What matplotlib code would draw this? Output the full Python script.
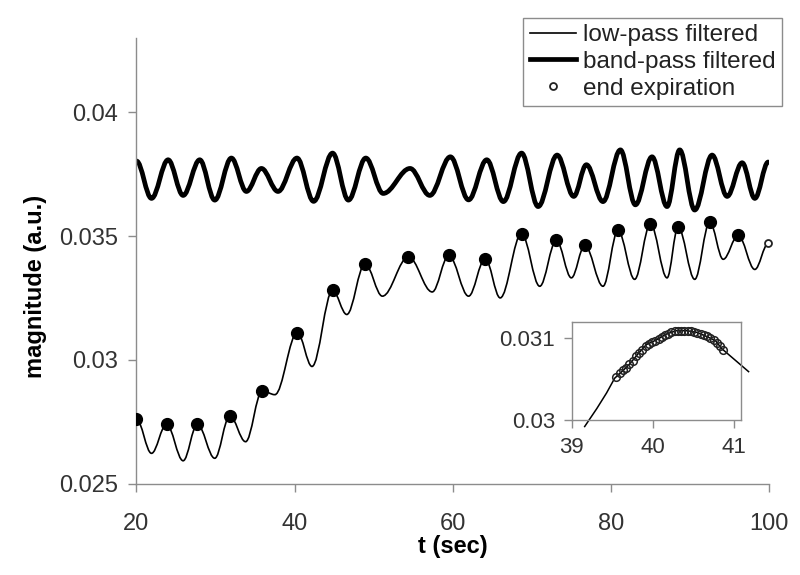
import matplotlib
matplotlib.use('Agg')
import matplotlib.pyplot as plt
from matplotlib.path import Path
from matplotlib.patches import PathPatch
from matplotlib.lines import Line2D

plt.rcParams['font.family'] = ['Liberation Sans', 'DejaVu Sans']

# low-pass filtered signal, successive turning points
low_t = [20.0, 21.9, 23.8, 25.9, 27.7, 29.9, 31.8, 33.8, 35.9, 37.5, 40.35,
         42.2, 44.8, 46.6, 48.9, 51.1, 54.4, 57.4, 59.5, 62.0, 64.1, 66.0,
         68.7, 71.0, 73.1, 75.0, 76.7, 79.0, 80.9, 83.0, 85.0, 87.1, 88.5,
         90.6, 92.5, 94.2, 96.1, 98.2, 99.9]
low_v = [0.02760, 0.02622, 0.02740, 0.02592, 0.02740, 0.02602, 0.02774,
         0.02669, 0.02875, 0.02859, 0.03110, 0.02973, 0.03280, 0.03183,
         0.03388, 0.03257, 0.03416, 0.03274, 0.03422, 0.03257, 0.03409,
         0.03250, 0.03510, 0.03297, 0.03483, 0.03331, 0.03463, 0.03297,
         0.03523, 0.03325, 0.03550, 0.03331, 0.03537, 0.03325, 0.03557,
         0.03406, 0.03503, 0.03365, 0.03470]

# band-pass filtered signal, turning points
band_t = [20.0, 21.9, 24.0, 25.9, 28.0, 29.9, 32.0, 33.9, 35.8, 37.9, 40.3,
          42.4, 44.8, 46.8, 49.0, 51.2, 54.6, 57.1, 59.7, 62.0, 64.3, 66.4,
          68.7, 70.8, 73.2, 75.3, 76.9, 79.0, 81.2, 83.1, 85.2, 87.1, 88.7,
          90.6, 92.8, 94.7, 96.6, 98.2, 99.9]
band_v = [0.03803, 0.03652, 0.03808, 0.03664, 0.03808, 0.03645, 0.03815,
          0.03680, 0.03773, 0.03680, 0.03815, 0.03640, 0.03835, 0.03645,
          0.03815, 0.03672, 0.03773, 0.03664, 0.03820, 0.03646, 0.03808,
          0.03639, 0.03835, 0.03619, 0.03827, 0.03660, 0.03788, 0.03639,
          0.03848, 0.03626, 0.03820, 0.03619, 0.03848, 0.03605, 0.03827,
          0.03660, 0.03796, 0.03652, 0.03799]

# end expiration samples (clustered on the low-pass peaks)
ee_t = [20.0, 23.8, 27.7, 31.8, 35.9, 40.35, 44.8, 48.9, 54.4, 59.5, 64.1,
        68.7, 73.1, 76.7, 80.9, 85.0, 88.5, 92.5, 96.1]
ee_v = [0.02760, 0.02740, 0.02740, 0.02774, 0.02875, 0.03110, 0.03280,
        0.03388, 0.03416, 0.03422, 0.03409, 0.03510, 0.03483, 0.03463,
        0.03523, 0.03550, 0.03537, 0.03557, 0.03503]
last_ee_t = [99.9]
last_ee_v = [0.03470]

# inset: low-pass around t = 40 s and its end expiration samples
zoom_t = [39.16, 39.31, 39.43, 39.53, 39.64, 39.72, 39.82, 39.92, 40.05,
          40.17, 40.29, 40.42, 40.54, 40.66, 40.77, 40.85, 41.18]
zoom_v = [0.02992, 0.03014, 0.03033, 0.03051, 0.03061, 0.03069, 0.03081,
          0.03092, 0.03098, 0.03105, 0.03109, 0.03109, 0.03107, 0.03102,
          0.03097, 0.03087, 0.03059]
zoom_ee_t = [39.55, 39.59, 39.63, 39.67, 39.71, 39.75, 39.79, 39.83, 39.87,
             39.91, 39.95, 39.99, 40.03, 40.07, 40.11, 40.15, 40.19, 40.23,
             40.27, 40.31, 40.35, 40.39, 40.43, 40.47, 40.51, 40.55, 40.59,
             40.63, 40.67, 40.71, 40.75, 40.79, 40.83, 40.87]
zoom_ee_v = [0.030525, 0.030570, 0.030605, 0.030640, 0.030685, 0.030725,
             0.030775, 0.030820, 0.030860, 0.030900, 0.030930, 0.030950,
             0.030970, 0.030990, 0.031015, 0.031040, 0.031055, 0.031070,
             0.031085, 0.031090, 0.031092, 0.031090, 0.031088, 0.031082,
             0.031072, 0.031062, 0.031050, 0.031035, 0.031020, 0.031000,
             0.030975, 0.030945, 0.030905, 0.030860]

xticks = [20, 40, 60, 80, 100]
yticks = [0.025, 0.03, 0.035, 0.04]
ytick_labels = ['0.025', '0.03', '0.035', '0.04']
inset_xticks = [39, 40, 41]
inset_yticks = [0.03, 0.031]
inset_ytick_labels = ['0.03', '0.031']

GREY = '#8c8c8c'


def smooth_path(t, v, k=0.36):
    # cubic bezier between turning points, flat at each turning point
    verts = [(t[0], v[0])]
    codes = [Path.MOVETO]
    for i in range(1, len(t)):
        dt = t[i] - t[i - 1]
        verts += [(t[i - 1] + k * dt, v[i - 1]), (t[i] - k * dt, v[i]), (t[i], v[i])]
        codes += [Path.CURVE4] * 3
    return Path(verts, codes)


def grey_axes(ax, spines):
    for name, sp in ax.spines.items():
        sp.set_visible(name in spines)
        sp.set_color(GREY)
        sp.set_linewidth(1)


fig = plt.figure(figsize=(8, 5.75), dpi=100)

ax = fig.add_axes([0.1706, 0.1591, 0.7907, 0.7748])
ax.add_patch(PathPatch(smooth_path(band_t, band_v), fill=False, edgecolor='black',
                       lw=3.4, capstyle='round', joinstyle='round'))
ax.add_patch(PathPatch(smooth_path(low_t, low_v), fill=False, edgecolor='black', lw=1.2))
ax.plot(ee_t, ee_v, 'o', ms=8.5, color='black', zorder=3)
end_pt, = ax.plot(last_ee_t, last_ee_v, 'o', ms=5, mfc='white', mec='#222222', mew=1.3,
                  zorder=4, clip_on=False)

ax.set_xlim(20, 100)
ax.set_ylim(0.025, 0.043)
ax.set_xticks(xticks)
ax.set_xticklabels([str(x) for x in xticks])
ax.set_yticks(yticks)
ax.set_yticklabels(ytick_labels)
grey_axes(ax, ['left', 'bottom'])
ax.tick_params(direction='out', length=6, width=1, color=GREY,
               labelsize=17, labelcolor='#333333')
ax.tick_params(axis='x', pad=15)
ax.tick_params(axis='y', pad=7)
ax.set_xlabel('t (sec)', fontsize=17, fontweight='bold', labelpad=0)
ax.set_ylabel('magnitude (a.u.)', fontsize=17, fontweight='bold')
ax.yaxis.set_label_coords(-0.142, 0.443)

# inset
axin = fig.add_axes([0.7146, 0.2696, 0.2116, 0.1710])
axin.plot(zoom_t, zoom_v, color='black', lw=1.1, clip_on=False)
axin.plot(zoom_ee_t, zoom_ee_v, 'o', ms=5.5, mfc='none', mec='#222222', mew=1.1, clip_on=False)
axin.set_xlim(39, 41.086)
axin.set_ylim(0.03, 0.0312)
axin.set_xticks(inset_xticks)
axin.set_xticklabels([str(x) for x in inset_xticks])
axin.set_yticks(inset_yticks)
axin.set_yticklabels(inset_ytick_labels)
grey_axes(axin, ['left', 'bottom', 'top', 'right'])
axin.tick_params(direction='out', length=6, width=1, color=GREY,
                 labelsize=16, labelcolor='#333333', pad=6)

handles = [Line2D([], [], color='black', lw=1.2),
           Line2D([], [], color='black', lw=3.4),
           end_pt]
labels = ['low-pass filtered', 'band-pass filtered', 'end expiration']
leg = fig.legend(handles, labels, loc='upper right', bbox_to_anchor=(0.9771, 0.9687),
                 frameon=True, fancybox=False, edgecolor=GREY, framealpha=1,
                 fontsize=17.5, handlelength=1.9, handletextpad=0.3,
                 labelspacing=0.2, borderpad=0.25, borderaxespad=0)
leg.get_frame().set_linewidth(1)
for txt in leg.get_texts():
    txt.set_color('#222222')

fig.savefig('out.png', dpi=100)
